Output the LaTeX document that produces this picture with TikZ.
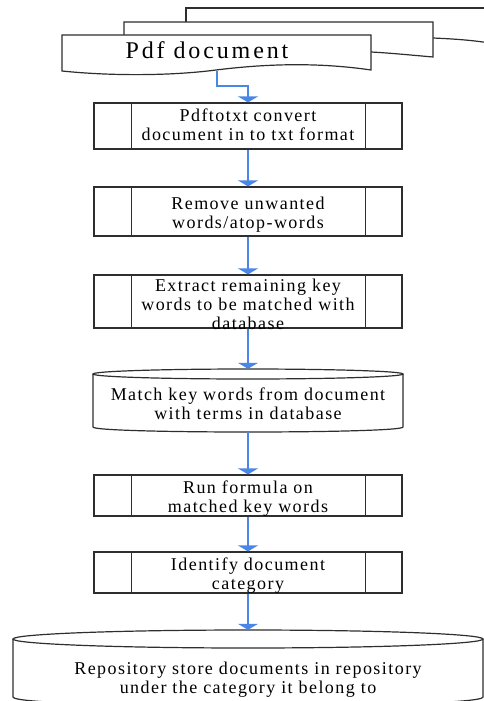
\documentclass[tikz,border=0pt]{standalone}
\usepackage{fontspec}
\newfontfamily\bodyfont[LetterSpace=8]{Liberation Serif}
\newfontfamily\titlefont[LetterSpace=12]{Liberation Serif}
\usetikzlibrary{arrows.meta,calc}
\definecolor{flowblue}{RGB}{74,134,232}
\begin{document}
\begin{tikzpicture}[x=1pt,y=-1pt,
  outline/.style={draw=black!82, line width=1.2pt},
  procbox/.style={outline, fill=white, minimum width=308pt, minimum height=#1, inner sep=0pt},
  area/.style={minimum width=#1, inner sep=0pt},
  txt/.style={align=center, font=\bodyfont\fontsize{18}{19}\selectfont, inner sep=0pt},
  flow/.style={draw=flowblue, line width=1.5pt, -{Triangle[width=20pt,length=6pt]}}]
\useasboundingbox (0,0) rectangle (484,701);

% multi-document
\draw[outline] (186,22) -- (186,8) -- (540,8);
\draw[outline] (433,38) .. controls (455,39) and (470,40) .. (490,43);
\draw[outline, fill=white] (124,40) -- (124,22) -- (433,22) -- (433,57) .. controls (410,55) and (390,53) .. (371,52) -- (300,52) -- (124,40);
\draw[outline, fill=white] (62,71) -- (62,35) -- (371,35) -- (371,70)
   .. controls (330,64) and (280,62) .. (216,70)
   .. controls (170,76) and (110,76) .. (62,71) -- cycle;
\node[inner sep=0pt, font=\titlefont\fontsize{24}{24}\selectfont] (pdf) at (207,50) {Pdf document};
\coordinate (docout) at (217,71);

% process boxes
\node[procbox=46pt] (b1) at (248,126) {};
\node[procbox=49pt] (b2) at (248,211.5) {};
\node[procbox=53pt] (b3) at (248,301.5) {};
\node[procbox=41pt] (b4) at (248,495.5) {};
\node[procbox=41pt] (b5) at (248,572.5) {};
\foreach \b in {b1,b2,b3,b4,b5}{
  \draw[outline] ($(\b.north west)+(38,0)$) -- ($(\b.south west)+(38,0)$);
  \draw[outline] ($(\b.north east)+(-37,0)$) -- ($(\b.south east)+(-37,0)$);
}
\node[txt] (t1) at (248,124.5) {Pdftotxt convert\\document in to txt format};
\node[txt] (t2) at (248,215) {Remove unwanted\\words/atop-words};
\node[txt] (t3) at (248,304) {Extract remaining key\\words to be matched with\\database};
\node[txt] (t4) at (248,499) {Run formula on\\matched key words};
\node[txt] (t5) at (248,575.5) {Identify document\\category};

% cylinder 1
\fill[white] (93,374) -- (93,427) .. controls (93,433.67) and (403,433.67) .. (403,427) -- (403,374) -- cycle;
\draw[outline] (93,374) -- (93,427) .. controls (93,433.67) and (403,433.67) .. (403,427) -- (403,374);
\draw[outline] (248,374) ellipse [x radius=155, y radius=5];
\node[area=310pt, minimum height=63pt] (c1) at (248,400.5) {};
\node[txt] (tc1) at (248,403.5) {Match key words from document\\with terms in database};

% cylinder 2
\fill[white] (13,639) -- (13,697) .. controls (13,709) and (483,709) .. (483,697) -- (483,639) -- cycle;
\draw[outline] (13,639) -- (13,697) .. controls (13,709) and (483,709) .. (483,697) -- (483,639);
\draw[outline] (248,639) ellipse [x radius=235, y radius=9];
\node[area=470pt, minimum height=70pt] (c2) at (248,665) {};
\node[txt] (tc2) at (248,679.5) {Repository store documents in repository\\under the category it belong to};

% connectors
\draw[flow] (docout) -- (217,86) -| (b1.north);
\draw[flow] (b1.south) -- (b2.north);
\draw[flow] (b2.south) -- (b3.north);
\draw[flow] (b3.south) -- (c1.north);
\draw[flow] (c1.south) -- (b4.north);
\draw[flow] (b4.south) -- (b5.north);
\draw[flow] (b5.south) -- (c2.north);
\end{tikzpicture}
\end{document}
